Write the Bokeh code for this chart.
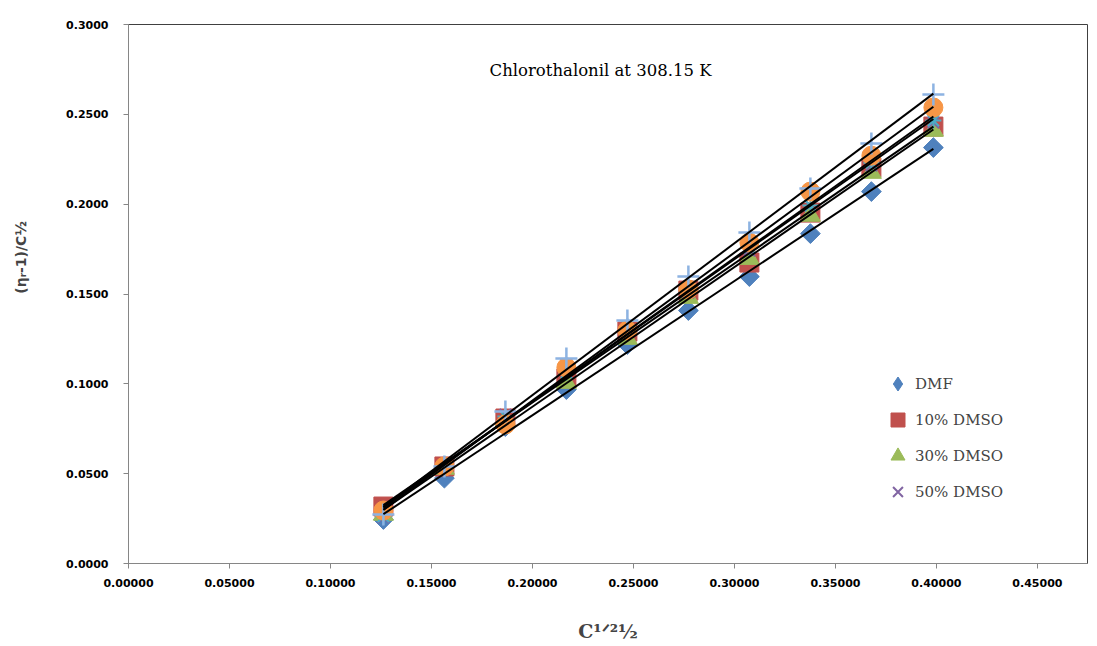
import numpy as np
from bokeh.plotting import figure
from bokeh.models import Range1d, FixedTicker, NumeralTickFormatter, Legend, LegendItem, Label
from bokeh.embed import file_html
from bokeh.resources import INLINE

# ---- data ----
x_vals = [0.1262, 0.1564, 0.1866, 0.2168, 0.2470, 0.2772, 0.3074, 0.3376, 0.3678, 0.3985]

dmf      = [0.0245, 0.0475, 0.0762, 0.0968, 0.1219, 0.1408, 0.1597, 0.1836, 0.2070, 0.2315]
dmso_10  = [0.0317, 0.0540, 0.0807, 0.1030, 0.1291, 0.1519, 0.1675, 0.1953, 0.2204, 0.2432]
dmso_30  = [0.0273, 0.0529, 0.0796, 0.1007, 0.1252, 0.1480, 0.1697, 0.1937, 0.2176, 0.2410]
dmso_50  = [0.0256, 0.0529, 0.0829, 0.1107, 0.1308, 0.1508, 0.1742, 0.1992, 0.2215, 0.2454]
dmso_70  = [0.0262, 0.0534, 0.0818, 0.1063, 0.1319, 0.1536, 0.1758, 0.1992, 0.2231, 0.2465]
dmso_90  = [0.0295, 0.0540, 0.0774, 0.1091, 0.1297, 0.1525, 0.1786, 0.2070, 0.2270, 0.2538]
dmso_100 = [0.0273, 0.0540, 0.0846, 0.1141, 0.1352, 0.1597, 0.1842, 0.2087, 0.2337, 0.2610]

series_names = ["DMF", "10% DMSO", "30% DMSO", "50% DMSO", "70% DMSO", "90% DMSO", "DMSO"]
series_vals = [dmf, dmso_10, dmso_30, dmso_50, dmso_70, dmso_90, dmso_100]

x_ticks = [0.0, 0.05, 0.10, 0.15, 0.20, 0.25, 0.30, 0.35, 0.40, 0.45]
y_ticks = [0.0, 0.05, 0.10, 0.15, 0.20, 0.25, 0.30]

title_text = "Chlorothalonil at 308.15 K"
x_title = "C\u00b9\u141f\u00b2\u00bd"
y_title = "(\u03b7\u1d63-1)/C\u00bd"

# ---- styles ----
marker_styles = [
    dict(marker="square", size=14, angle=np.pi / 4, fill_color="#4F81BD", line_color="#4F81BD"),
    dict(marker="square", size=19, fill_color="#C0504D", line_color="#C0504D"),
    dict(marker="triangle", size=20, fill_color="#9BBB59", line_color="#9BBB59"),
    dict(marker="x", size=16, line_color="#8064A2", line_width=2),
    dict(marker="asterisk", size=16, line_color="#4BACC6", line_width=2),
    dict(marker="circle", size=19, fill_color="#F79646", line_color="#F79646"),
    dict(marker="cross", size=22, line_color="#8DB3E2", line_width=2.5),
]

p = figure(width=1097, height=646, output_backend="svg", toolbar_location=None,
           x_range=Range1d(0, 0.4748), y_range=Range1d(0, 0.3),
           min_border_left=128, min_border_right=10, min_border_top=24, min_border_bottom=83)
p.grid.visible = False
p.outline_line_color = "#404040"
p.outline_line_width = 1
p.background_fill_color = "white"
p.border_fill_color = "white"

renderers = [p.scatter(x_vals, vals, **st) for vals, st in zip(series_vals, marker_styles)]

# legend proxy for the diamond (legend glyphs ignore marker rotation)
dmf_legend_proxy = p.scatter([np.nan], [np.nan], marker="diamond", size=14,
                             fill_color="#4F81BD", line_color="#4F81BD")
legend_renderers = [dmf_legend_proxy, renderers[1], renderers[2], renderers[3]]

# linear trendlines
for vals in series_vals:
    m, c = np.polyfit(x_vals, vals, 1)
    xs = [x_vals[0], x_vals[-1]]
    p.line(xs, [m * xx + c for xx in xs], line_color="black", line_width=2)

for ax in (p.xaxis[0], p.yaxis[0]):
    ax.axis_line_color = "#868686"
    ax.major_tick_line_color = "#868686"
    ax.major_tick_out = 5
    ax.major_tick_in = 0
    ax.minor_tick_line_color = None
    ax.major_label_text_font = "DejaVu Sans"
    ax.major_label_text_font_style = "bold"
    ax.major_label_text_font_size = "11px"
    ax.major_label_text_color = "black"

p.xaxis.ticker = FixedTicker(ticks=x_ticks)
p.xaxis.formatter = NumeralTickFormatter(format="0.00000")
p.xaxis.major_label_standoff = 10
p.xaxis.axis_label = x_title
p.xaxis.axis_label_text_font = "DejaVu Serif"
p.xaxis.axis_label_text_font_style = "bold"
p.xaxis.axis_label_text_font_size = "19px"
p.xaxis.axis_label_standoff = 30

p.yaxis.ticker = FixedTicker(ticks=y_ticks)
p.yaxis.formatter = NumeralTickFormatter(format="0.0000")
p.yaxis.major_label_standoff = 15
p.yaxis.axis_label = "\u00a0" * 15 + y_title
p.yaxis.axis_label_text_font = "DejaVu Sans"
p.yaxis.axis_label_text_font_style = "bold"
p.yaxis.axis_label_text_font_size = "14px"
p.yaxis.axis_label_standoff = 34

# title
p.add_layout(Label(x=0.2337, y=0.2744, text=title_text, text_align="center", text_baseline="middle",
                   text_font="DejaVu Serif", text_font_size="16.5px", text_color="black"))

legend = Legend(items=[LegendItem(label=series_names[i], renderers=[legend_renderers[i]]) for i in range(4)],
                location=(752, 54), background_fill_alpha=0, border_line_color=None,
                label_text_font="DejaVu Serif", label_text_font_size="15px",
                glyph_width=35, glyph_height=35, spacing=1, label_standoff=-14, padding=0, margin=0)
p.add_layout(legend)

open("out.html", "w").write(file_html(p, INLINE))
